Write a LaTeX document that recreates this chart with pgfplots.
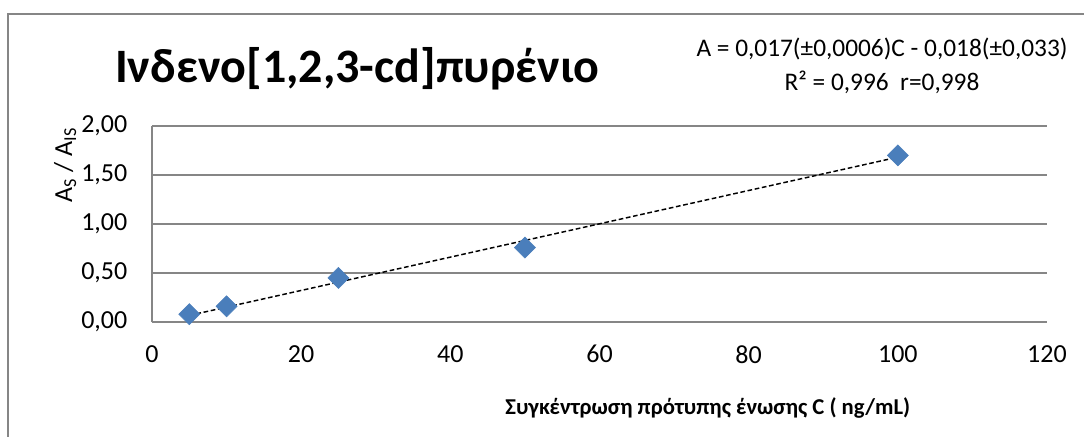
\documentclass[border=0pt]{standalone}
\usepackage{pgfplots}
\pgfplotsset{compat=1.18}
\usepackage{fontspec}
\setmainfont{Carlito}
\definecolor{gridgray}{RGB}{134,134,134}
\definecolor{xlblue}{RGB}{74,126,187}
\begin{document}
\begin{tikzpicture}[x=1pt,y=1pt]
% px -> pt: ((px-152)*0.75, (322-py)*0.75)
\path[use as bounding box] (-114,-85.5) rectangle (699,241.5);
\draw[gridgray, line width=0.9pt] (-108,-95) -- (-108,231) -- (710,231);
\begin{axis}[
  at={(0,0)}, anchor=south west,
  scale only axis, width=671.25pt, height=147pt,
  xmin=0, xmax=120, ymin=0, ymax=2,
  xtick={0,20,...,120}, ytick={0,0.5,...,2},
  axis line style={gridgray, line width=0.9pt},
  axis x line*=bottom, axis y line*=left,
  ymajorgrids, major grid style={gridgray, line width=0.9pt},
  tick style={draw=none},
  /pgf/number format/assume math mode=true,
  yticklabel style={/pgf/number format/fixed, /pgf/number format/fixed zerofill, /pgf/number format/precision=2, /pgf/number format/use comma, xshift=-15pt},
  xticklabel style={/pgf/number format/fixed, /pgf/number format/use comma, yshift=-14pt},
  ticklabel style={font=\fontsize{19.5}{22}\selectfont},
  ylabel={A\textsubscript{S} / A\textsubscript{IS}},
  every axis y label/.style={at={(axis description cs:-0.097,0.8)}, rotate=90, anchor=center, font=\fontsize{19.5}{22}\selectfont},
  xlabel={\textbf{Συγκέντρωση πρότυπης ένωσης C ( ng/mL)}},
  every axis x label/.style={at={(axis description cs:0.621,-0.44)}, anchor=center, font=\fontsize{17}{20}\selectfont},
  clip=false,
]
\addplot[only marks, mark=square*, mark size=5.6pt, mark options={rotate=45, fill=xlblue, draw=xlblue}]
  coordinates {(5,0.08) (10,0.16) (25,0.45) (50,0.76) (100,1.70)};
\addplot[black, dash pattern=on 3.5pt off 2pt, line width=1.1pt] coordinates {(5,0.067) (100,1.682)};
\end{axis}
\node[font=\fontsize{36}{42}\selectfont\bfseries, anchor=center] at (154,190) {Ινδενο[1,2,3-cd]πυρένιο};
\node[font=\fontsize{19}{25}\selectfont, align=center, anchor=center] at (547.5,192) {A = 0,017(±0,0006)C - 0,018(±0,033)\\R² = 0,996\ \ r=0,998};
\end{tikzpicture}
\end{document}
